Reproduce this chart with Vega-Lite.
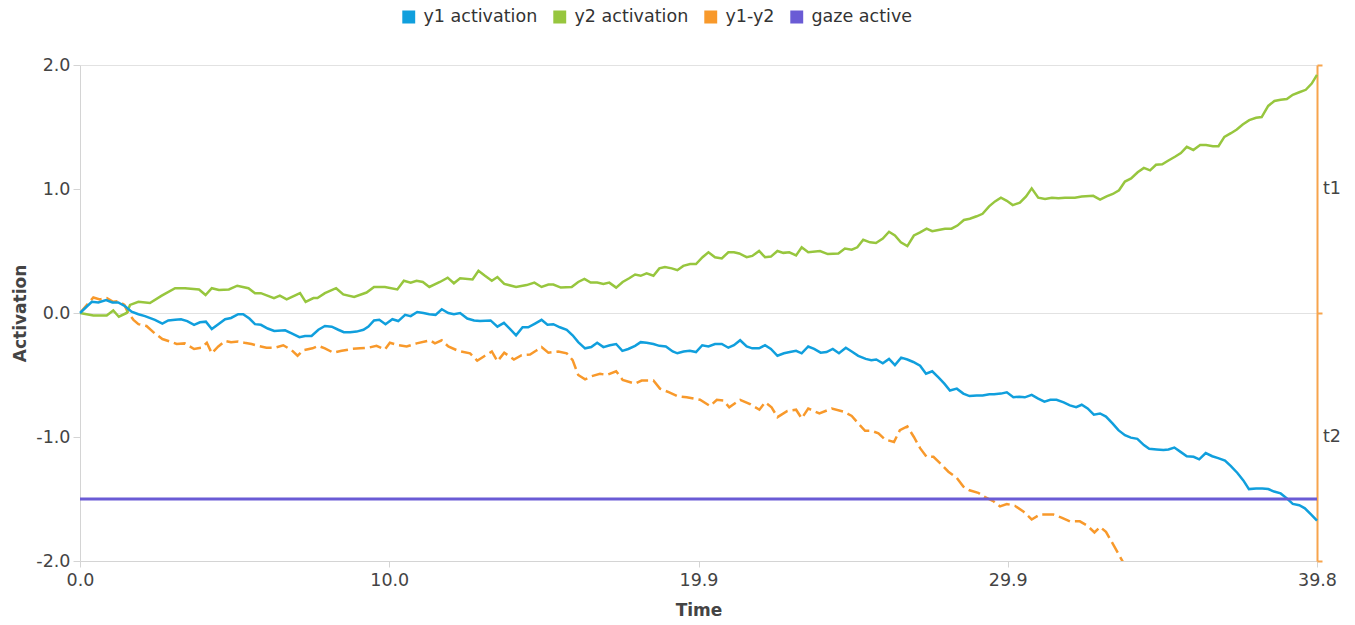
{
  "$schema": "https://vega.github.io/schema/vega-lite/v6.json",
  "width": 1237,
  "height": 496,
  "autosize": {"type": "none"},
  "padding": {"left": 80, "top": 65, "right": 38, "bottom": 64},
  "config": {
    "font": "DejaVu Sans",
    "view": {"stroke": null},
    "axis": {"labelFontSize": 17.5, "labelColor": "#444", "titleFontSize": 17, "titleColor": "#444", "titleFontWeight": "bold", "domainColor": "#d4d4d4", "tickColor": "#d4d4d4", "gridColor": "#e2e2e2", "grid": false},
    "legend": {"symbolStrokeColor": "#222"}
  },
  "datasets": {
    "y1": [
      {"t":0,"v":0},{"t":0.38,"v":0.09},{"t":0.59,"v":0.085},{"t":0.84,"v":0.105},{"t":1.04,"v":0.085},{"t":1.23,"v":0.085},{"t":1.45,"v":0.055},{"t":1.66,"v":0.01},{"t":1.88,"v":-0.01},{"t":2.09,"v":-0.025},{"t":2.41,"v":-0.055},{"t":2.65,"v":-0.085},{"t":2.84,"v":-0.06},{"t":3.06,"v":-0.055},{"t":3.25,"v":-0.05},{"t":3.45,"v":-0.065},{"t":3.67,"v":-0.095},{"t":3.86,"v":-0.075},{"t":4.05,"v":-0.07},{"t":4.24,"v":-0.13},{"t":4.45,"v":-0.09},{"t":4.67,"v":-0.05},{"t":4.86,"v":-0.04},{"t":5.09,"v":-0.01},{"t":5.25,"v":-0.01},{"t":5.45,"v":-0.045},{"t":5.63,"v":-0.09},{"t":5.82,"v":-0.095},{"t":6.04,"v":-0.125},{"t":6.25,"v":-0.145},{"t":6.6,"v":-0.14},{"t":6.81,"v":-0.165},{"t":7.06,"v":-0.195},{"t":7.24,"v":-0.185},{"t":7.45,"v":-0.185},{"t":7.67,"v":-0.135},{"t":7.88,"v":-0.105},{"t":8.1,"v":-0.11},{"t":8.31,"v":-0.135},{"t":8.49,"v":-0.155},{"t":8.69,"v":-0.155},{"t":8.9,"v":-0.15},{"t":9.12,"v":-0.135},{"t":9.28,"v":-0.11},{"t":9.46,"v":-0.06},{"t":9.63,"v":-0.055},{"t":9.83,"v":-0.09},{"t":10.05,"v":-0.05},{"t":10.24,"v":-0.065},{"t":10.46,"v":-0.015},{"t":10.64,"v":-0.025},{"t":10.85,"v":0.008},{"t":11.05,"v":0},{"t":11.24,"v":-0.01},{"t":11.44,"v":-0.015},{"t":11.64,"v":0.03},{"t":11.85,"v":0},{"t":12.03,"v":-0.01},{"t":12.23,"v":0},{"t":12.46,"v":-0.045},{"t":12.68,"v":-0.06},{"t":12.87,"v":-0.065},{"t":13.21,"v":-0.06},{"t":13.43,"v":-0.11},{"t":13.64,"v":-0.08},{"t":13.84,"v":-0.13},{"t":14.03,"v":-0.18},{"t":14.24,"v":-0.115},{"t":14.42,"v":-0.115},{"t":14.64,"v":-0.085},{"t":14.85,"v":-0.055},{"t":15.04,"v":-0.095},{"t":15.23,"v":-0.09},{"t":15.44,"v":-0.115},{"t":15.66,"v":-0.135},{"t":15.85,"v":-0.18},{"t":16.03,"v":-0.235},{"t":16.25,"v":-0.285},{"t":16.45,"v":-0.275},{"t":16.64,"v":-0.24},{"t":16.84,"v":-0.275},{"t":17.05,"v":-0.26},{"t":17.25,"v":-0.25},{"t":17.45,"v":-0.305},{"t":17.64,"v":-0.29},{"t":17.86,"v":-0.265},{"t":18.04,"v":-0.235},{"t":18.23,"v":-0.24},{"t":18.45,"v":-0.25},{"t":18.64,"v":-0.265},{"t":18.85,"v":-0.27},{"t":19.07,"v":-0.31},{"t":19.22,"v":-0.325},{"t":19.42,"v":-0.31},{"t":19.62,"v":-0.305},{"t":19.82,"v":-0.315},{"t":20.02,"v":-0.26},{"t":20.22,"v":-0.27},{"t":20.43,"v":-0.25},{"t":20.65,"v":-0.25},{"t":20.86,"v":-0.28},{"t":21.04,"v":-0.26},{"t":21.24,"v":-0.22},{"t":21.45,"v":-0.27},{"t":21.63,"v":-0.285},{"t":21.85,"v":-0.285},{"t":22.04,"v":-0.26},{"t":22.23,"v":-0.29},{"t":22.44,"v":-0.345},{"t":22.65,"v":-0.325},{"t":22.84,"v":-0.315},{"t":23.04,"v":-0.305},{"t":23.22,"v":-0.325},{"t":23.43,"v":-0.27},{"t":23.62,"v":-0.29},{"t":23.83,"v":-0.32},{"t":24.02,"v":-0.315},{"t":24.22,"v":-0.29},{"t":24.42,"v":-0.325},{"t":24.64,"v":-0.28},{"t":24.83,"v":-0.31},{"t":25.04,"v":-0.345},{"t":25.28,"v":-0.37},{"t":25.46,"v":-0.38},{"t":25.62,"v":-0.375},{"t":25.83,"v":-0.405},{"t":26.03,"v":-0.37},{"t":26.22,"v":-0.42},{"t":26.42,"v":-0.36},{"t":26.62,"v":-0.375},{"t":26.81,"v":-0.395},{"t":27.03,"v":-0.425},{"t":27.22,"v":-0.49},{"t":27.42,"v":-0.47},{"t":27.62,"v":-0.52},{"t":27.81,"v":-0.57},{"t":27.99,"v":-0.625},{"t":28.21,"v":-0.61},{"t":28.42,"v":-0.65},{"t":28.62,"v":-0.67},{"t":28.85,"v":-0.665},{"t":29.04,"v":-0.665},{"t":29.26,"v":-0.655},{"t":29.41,"v":-0.655},{"t":29.63,"v":-0.65},{"t":29.82,"v":-0.64},{"t":30.03,"v":-0.68},{"t":30.22,"v":-0.675},{"t":30.4,"v":-0.68},{"t":30.62,"v":-0.66},{"t":30.83,"v":-0.69},{"t":31.03,"v":-0.715},{"t":31.22,"v":-0.7},{"t":31.42,"v":-0.7},{"t":31.65,"v":-0.72},{"t":31.85,"v":-0.745},{"t":32.05,"v":-0.76},{"t":32.23,"v":-0.74},{"t":32.42,"v":-0.77},{"t":32.62,"v":-0.82},{"t":32.82,"v":-0.81},{"t":33.01,"v":-0.835},{"t":33.22,"v":-0.89},{"t":33.41,"v":-0.945},{"t":33.62,"v":-0.985},{"t":33.81,"v":-1.005},{"t":34.02,"v":-1.015},{"t":34.23,"v":-1.065},{"t":34.4,"v":-1.095},{"t":34.64,"v":-1.1},{"t":34.86,"v":-1.105},{"t":35.02,"v":-1.1},{"t":35.21,"v":-1.085},{"t":35.41,"v":-1.12},{"t":35.61,"v":-1.155},{"t":35.83,"v":-1.16},{"t":36.01,"v":-1.18},{"t":36.22,"v":-1.13},{"t":36.43,"v":-1.155},{"t":36.62,"v":-1.17},{"t":36.84,"v":-1.19},{"t":37.03,"v":-1.235},{"t":37.24,"v":-1.29},{"t":37.43,"v":-1.35},{"t":37.61,"v":-1.42},{"t":37.84,"v":-1.415},{"t":38.04,"v":-1.415},{"t":38.23,"v":-1.42},{"t":38.42,"v":-1.44},{"t":38.63,"v":-1.455},{"t":38.83,"v":-1.495},{"t":39.02,"v":-1.54},{"t":39.23,"v":-1.55},{"t":39.41,"v":-1.575},{"t":39.63,"v":-1.63},{"t":39.8,"v":-1.675}
    ],
    "y2": [
      {"t":0,"v":0},{"t":0.43,"v":-0.02},{"t":0.86,"v":-0.02},{"t":1.07,"v":0.02},{"t":1.25,"v":-0.03},{"t":1.5,"v":0},{"t":1.61,"v":0.065},{"t":1.88,"v":0.09},{"t":2.25,"v":0.08},{"t":2.63,"v":0.14},{"t":3.06,"v":0.2},{"t":3.38,"v":0.2},{"t":3.83,"v":0.19},{"t":4.04,"v":0.145},{"t":4.24,"v":0.2},{"t":4.47,"v":0.185},{"t":4.79,"v":0.19},{"t":5.06,"v":0.22},{"t":5.42,"v":0.2},{"t":5.63,"v":0.16},{"t":5.82,"v":0.16},{"t":6.24,"v":0.12},{"t":6.43,"v":0.14},{"t":6.65,"v":0.11},{"t":7.08,"v":0.16},{"t":7.26,"v":0.09},{"t":7.51,"v":0.12},{"t":7.64,"v":0.12},{"t":7.88,"v":0.16},{"t":8.24,"v":0.2},{"t":8.47,"v":0.15},{"t":8.82,"v":0.13},{"t":9.22,"v":0.165},{"t":9.46,"v":0.21},{"t":9.81,"v":0.21},{"t":10.21,"v":0.19},{"t":10.42,"v":0.26},{"t":10.64,"v":0.245},{"t":10.83,"v":0.26},{"t":11.03,"v":0.25},{"t":11.24,"v":0.21},{"t":11.58,"v":0.25},{"t":11.83,"v":0.285},{"t":12.03,"v":0.24},{"t":12.23,"v":0.28},{"t":12.63,"v":0.27},{"t":12.82,"v":0.34},{"t":13.03,"v":0.3},{"t":13.25,"v":0.26},{"t":13.43,"v":0.29},{"t":13.65,"v":0.235},{"t":14.03,"v":0.21},{"t":14.37,"v":0.225},{"t":14.62,"v":0.245},{"t":14.85,"v":0.21},{"t":15.07,"v":0.23},{"t":15.23,"v":0.23},{"t":15.47,"v":0.205},{"t":15.82,"v":0.21},{"t":16.03,"v":0.25},{"t":16.23,"v":0.275},{"t":16.43,"v":0.245},{"t":16.64,"v":0.245},{"t":16.84,"v":0.235},{"t":17.03,"v":0.245},{"t":17.25,"v":0.205},{"t":17.46,"v":0.25},{"t":17.67,"v":0.28},{"t":17.86,"v":0.31},{"t":18.04,"v":0.3},{"t":18.23,"v":0.32},{"t":18.45,"v":0.3},{"t":18.64,"v":0.36},{"t":18.82,"v":0.37},{"t":19.04,"v":0.36},{"t":19.22,"v":0.345},{"t":19.41,"v":0.38},{"t":19.63,"v":0.395},{"t":19.82,"v":0.395},{"t":20.03,"v":0.45},{"t":20.22,"v":0.49},{"t":20.43,"v":0.45},{"t":20.65,"v":0.44},{"t":20.86,"v":0.49},{"t":21.04,"v":0.49},{"t":21.21,"v":0.48},{"t":21.45,"v":0.45},{"t":21.63,"v":0.46},{"t":21.85,"v":0.5},{"t":22.04,"v":0.45},{"t":22.23,"v":0.455},{"t":22.44,"v":0.5},{"t":22.63,"v":0.485},{"t":22.82,"v":0.49},{"t":23.04,"v":0.465},{"t":23.22,"v":0.53},{"t":23.43,"v":0.49},{"t":23.81,"v":0.5},{"t":24.06,"v":0.475},{"t":24.4,"v":0.48},{"t":24.61,"v":0.52},{"t":24.83,"v":0.51},{"t":25.01,"v":0.53},{"t":25.2,"v":0.59},{"t":25.42,"v":0.57},{"t":25.61,"v":0.565},{"t":25.83,"v":0.6},{"t":26.03,"v":0.655},{"t":26.22,"v":0.625},{"t":26.41,"v":0.57},{"t":26.62,"v":0.54},{"t":26.83,"v":0.625},{"t":27.03,"v":0.65},{"t":27.24,"v":0.68},{"t":27.42,"v":0.66},{"t":27.62,"v":0.67},{"t":27.83,"v":0.68},{"t":28.04,"v":0.68},{"t":28.23,"v":0.705},{"t":28.44,"v":0.75},{"t":28.63,"v":0.76},{"t":28.85,"v":0.78},{"t":29.04,"v":0.8},{"t":29.25,"v":0.86},{"t":29.44,"v":0.9},{"t":29.63,"v":0.93},{"t":29.82,"v":0.905},{"t":30.01,"v":0.87},{"t":30.24,"v":0.89},{"t":30.44,"v":0.94},{"t":30.62,"v":1.005},{"t":30.83,"v":0.93},{"t":31.05,"v":0.92},{"t":31.27,"v":0.93},{"t":31.48,"v":0.925},{"t":31.69,"v":0.93},{"t":32.01,"v":0.93},{"t":32.23,"v":0.94},{"t":32.6,"v":0.945},{"t":32.82,"v":0.915},{"t":33.03,"v":0.94},{"t":33.23,"v":0.96},{"t":33.43,"v":0.99},{"t":33.62,"v":1.06},{"t":33.82,"v":1.085},{"t":34.03,"v":1.135},{"t":34.23,"v":1.17},{"t":34.43,"v":1.15},{"t":34.62,"v":1.195},{"t":34.82,"v":1.2},{"t":35.02,"v":1.23},{"t":35.23,"v":1.26},{"t":35.42,"v":1.29},{"t":35.61,"v":1.34},{"t":35.82,"v":1.315},{"t":36.04,"v":1.355},{"t":36.23,"v":1.355},{"t":36.45,"v":1.345},{"t":36.63,"v":1.345},{"t":36.82,"v":1.42},{"t":37.03,"v":1.45},{"t":37.22,"v":1.48},{"t":37.41,"v":1.52},{"t":37.62,"v":1.555},{"t":37.84,"v":1.575},{"t":38.02,"v":1.58},{"t":38.23,"v":1.67},{"t":38.43,"v":1.71},{"t":38.63,"v":1.72},{"t":38.83,"v":1.725},{"t":39.02,"v":1.76},{"t":39.23,"v":1.78},{"t":39.44,"v":1.8},{"t":39.63,"v":1.85},{"t":39.8,"v":1.92}
    ],
    "diff": [
      {"t":0,"v":0},{"t":0.43,"v":0.125},{"t":0.64,"v":0.11},{"t":0.86,"v":0.12},{"t":1.07,"v":0.09},{"t":1.23,"v":0.095},{"t":1.43,"v":0.065},{"t":1.55,"v":0},{"t":1.72,"v":-0.055},{"t":1.88,"v":-0.09},{"t":2.14,"v":-0.105},{"t":2.41,"v":-0.165},{"t":2.65,"v":-0.21},{"t":2.9,"v":-0.23},{"t":3.11,"v":-0.25},{"t":3.37,"v":-0.245},{"t":3.67,"v":-0.29},{"t":3.9,"v":-0.28},{"t":4.08,"v":-0.24},{"t":4.24,"v":-0.325},{"t":4.45,"v":-0.27},{"t":4.67,"v":-0.225},{"t":4.86,"v":-0.235},{"t":5.09,"v":-0.23},{"t":5.29,"v":-0.24},{"t":5.52,"v":-0.25},{"t":5.74,"v":-0.265},{"t":6.0,"v":-0.28},{"t":6.28,"v":-0.28},{"t":6.54,"v":-0.26},{"t":6.81,"v":-0.3},{"t":7.0,"v":-0.345},{"t":7.19,"v":-0.3},{"t":7.48,"v":-0.285},{"t":7.67,"v":-0.265},{"t":7.88,"v":-0.285},{"t":8.15,"v":-0.32},{"t":8.42,"v":-0.305},{"t":8.74,"v":-0.29},{"t":9.01,"v":-0.285},{"t":9.28,"v":-0.28},{"t":9.54,"v":-0.265},{"t":9.81,"v":-0.295},{"t":9.97,"v":-0.24},{"t":10.24,"v":-0.26},{"t":10.51,"v":-0.27},{"t":10.83,"v":-0.245},{"t":11.26,"v":-0.22},{"t":11.42,"v":-0.245},{"t":11.64,"v":-0.22},{"t":11.85,"v":-0.27},{"t":12.17,"v":-0.305},{"t":12.55,"v":-0.325},{"t":12.78,"v":-0.385},{"t":13.03,"v":-0.345},{"t":13.25,"v":-0.31},{"t":13.43,"v":-0.39},{"t":13.65,"v":-0.32},{"t":13.96,"v":-0.375},{"t":14.21,"v":-0.34},{"t":14.48,"v":-0.335},{"t":14.67,"v":-0.305},{"t":14.85,"v":-0.275},{"t":15.07,"v":-0.32},{"t":15.39,"v":-0.31},{"t":15.66,"v":-0.325},{"t":15.85,"v":-0.38},{"t":16.03,"v":-0.5},{"t":16.25,"v":-0.535},{"t":16.46,"v":-0.51},{"t":16.73,"v":-0.49},{"t":16.95,"v":-0.5},{"t":17.25,"v":-0.47},{"t":17.46,"v":-0.54},{"t":17.86,"v":-0.57},{"t":18.07,"v":-0.545},{"t":18.45,"v":-0.545},{"t":18.66,"v":-0.61},{"t":18.96,"v":-0.64},{"t":19.22,"v":-0.67},{"t":19.52,"v":-0.68},{"t":19.95,"v":-0.7},{"t":20.27,"v":-0.75},{"t":20.49,"v":-0.7},{"t":20.7,"v":-0.705},{"t":20.89,"v":-0.76},{"t":21.24,"v":-0.7},{"t":21.56,"v":-0.735},{"t":21.86,"v":-0.78},{"t":22.04,"v":-0.72},{"t":22.25,"v":-0.76},{"t":22.44,"v":-0.84},{"t":22.76,"v":-0.79},{"t":23.04,"v":-0.78},{"t":23.22,"v":-0.85},{"t":23.43,"v":-0.77},{"t":23.79,"v":-0.81},{"t":24.19,"v":-0.77},{"t":24.56,"v":-0.795},{"t":24.83,"v":-0.83},{"t":25.04,"v":-0.89},{"t":25.26,"v":-0.95},{"t":25.47,"v":-0.95},{"t":25.69,"v":-0.97},{"t":25.9,"v":-1.02},{"t":26.19,"v":-1.04},{"t":26.38,"v":-0.945},{"t":26.62,"v":-0.915},{"t":26.83,"v":-1.0},{"t":27.03,"v":-1.09},{"t":27.24,"v":-1.16},{"t":27.46,"v":-1.16},{"t":27.67,"v":-1.21},{"t":27.94,"v":-1.28},{"t":28.21,"v":-1.33},{"t":28.42,"v":-1.4},{"t":28.62,"v":-1.43},{"t":28.9,"v":-1.45},{"t":29.12,"v":-1.485},{"t":29.4,"v":-1.52},{"t":29.6,"v":-1.56},{"t":29.82,"v":-1.54},{"t":30.08,"v":-1.555},{"t":30.35,"v":-1.6},{"t":30.62,"v":-1.665},{"t":30.89,"v":-1.625},{"t":31.32,"v":-1.625},{"t":31.58,"v":-1.65},{"t":31.85,"v":-1.68},{"t":32.17,"v":-1.68},{"t":32.41,"v":-1.715},{"t":32.64,"v":-1.77},{"t":32.82,"v":-1.725},{"t":33.01,"v":-1.765},{"t":33.25,"v":-1.87},{"t":33.55,"v":-2.005},{"t":33.75,"v":-2.1}
    ],
    "gaze": [{"t":0,"v":-1.5},{"t":39.8,"v":-1.5}],
    "marks": [{"v":1,"label":"t1"},{"v":-1,"label":"t2"}]
  },
  "layer": [
    {
      "layer": [
        {
          "data": {"name": "diff"},
          "mark": {"type": "line", "strokeWidth": 2.5, "strokeDash": [12, 5], "clip": true},
          "encoding": {
            "x": {"field": "t", "type": "quantitative", "scale": {"domain": [0, 39.8], "nice": false, "zero": false},
              "axis": {"title": "Time", "values": [0, 9.950001, 19.9, 29.850001, 39.8], "format": ".1f", "tickSize": 6, "labelPadding": 4, "titlePadding": 14, "labelFlush": false}},
            "y": {"field": "v", "type": "quantitative", "scale": {"domain": [-2, 2], "nice": false, "zero": false},
              "axis": {"title": "Activation", "values": [-2, -1, 0, 1, 2], "labelExpr": "replace(format(datum.value, '.1f'), '\u2212', '-')", "tickSize": 7, "labelPadding": 3, "titlePadding": 6}},
            "color": {"datum": "y1-y2", "type": "nominal",
              "scale": {"domain": ["y1 activation", "y2 activation", "y1-y2", "gaze active"], "range": ["#109fdd", "#97c63e", "#f8992b", "#6a5bd5"]},
              "legend": {"title": null, "orient": "none", "legendX": 320, "legendY": -57, "direction": "horizontal", "symbolType": "square", "symbolSize": 130, "symbolStrokeWidth": 1.5, "symbolStrokeColor": "#222", "labelFontSize": 17.5, "labelColor": "#333", "labelOffset": 6, "columnPadding": 13,
                "encode": {"symbols": {"enter": {"stroke": {"value": "#222"}, "strokeWidth": {"value": 1.5}}, "update": {"fill": {"scale": "color", "field": "value"}, "stroke": {"value": "#222"}, "strokeWidth": {"value": 1.5}, "fillOpacity": {"value": 1}}}}}
            }
          }
        },
        {
          "data": {"name": "y2"},
          "mark": {"type": "line", "strokeWidth": 2.5},
          "encoding": {
            "x": {"field": "t", "type": "quantitative"},
            "y": {"field": "v", "type": "quantitative"},
            "color": {"datum": "y2 activation", "type": "nominal"}
          }
        },
        {
          "data": {"name": "y1"},
          "mark": {"type": "line", "strokeWidth": 2.5},
          "encoding": {
            "x": {"field": "t", "type": "quantitative"},
            "y": {"field": "v", "type": "quantitative"},
            "color": {"datum": "y1 activation", "type": "nominal"}
          }
        },
        {
          "data": {"name": "gaze"},
          "mark": {"type": "line", "strokeWidth": 3},
          "encoding": {
            "x": {"field": "t", "type": "quantitative"},
            "y": {"field": "v", "type": "quantitative"},
            "color": {"datum": "gaze active", "type": "nominal"}
          }
        }
      ]
    },
    {
      "data": {"name": "marks"},
      "mark": {"type": "text", "align": "left", "baseline": "middle", "dx": 6, "fontSize": 17.5, "color": "#444"},
      "encoding": {
        "x": {"datum": 39.8, "type": "quantitative"},
        "y": {"field": "v", "type": "quantitative",
          "axis": {"orient": "right", "title": null, "values": [-2, 0, 2], "labels": false, "grid": true, "domainColor": "#f7a44c", "domainWidth": 2, "tickColor": "#f7a44c", "tickWidth": 2, "tickSize": 5}},
        "text": {"field": "label"}
      }
    }
  ],
  "resolve": {"axis": {"y": "independent"}}
}
